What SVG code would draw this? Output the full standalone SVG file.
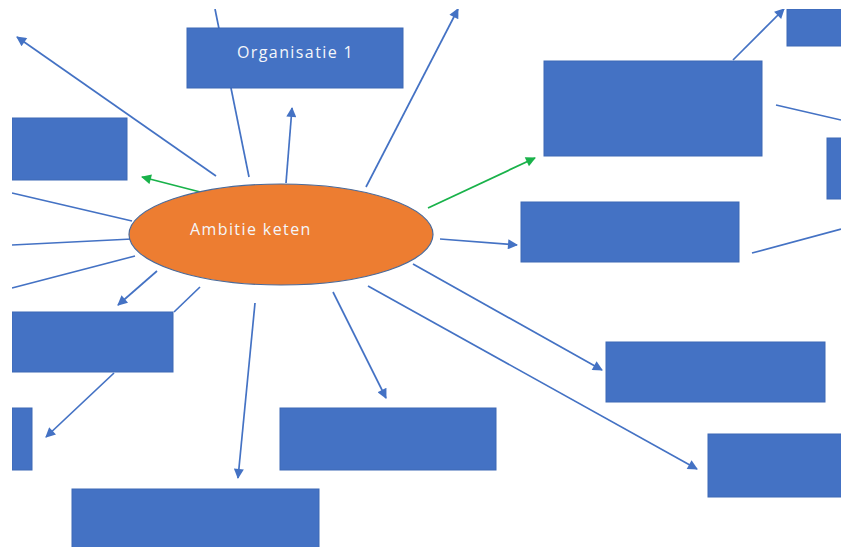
<svg xmlns="http://www.w3.org/2000/svg" width="841" height="547" viewBox="0 0 841 547">
<style>
.box{fill:#4472C4;stroke:#3D68B5;stroke-width:1}
.ln{stroke:#4472C4;stroke-width:1.7;fill:none}
.ar{stroke:#4472C4;stroke-width:1.7;fill:none;marker-end:url(#ab)}
.gr{stroke:#19B24A;stroke-width:1.8;fill:none;marker-end:url(#ag)}
.lbl{font-family:"Open Sans","Liberation Sans",sans-serif;font-size:16px;fill:#F4F6FA;letter-spacing:1.4px}
</style>
<defs>
<marker id="ab" viewBox="0 0 10 10" refX="9" refY="5" markerWidth="12" markerHeight="10" markerUnits="userSpaceOnUse" orient="auto"><path d="M0,0L10,5L0,10z" fill="#4472C4"/></marker>
<marker id="ag" viewBox="0 0 10 10" refX="9" refY="5" markerWidth="12" markerHeight="10" markerUnits="userSpaceOnUse" orient="auto"><path d="M0,0L10,5L0,10z" fill="#19B24A"/></marker>
</defs>
<rect width="841" height="547" fill="#FFFFFF"/>
<g id="connectors">
<line class="ln" x1="215" y1="9" x2="249" y2="177"/>
<line class="ar" x1="286" y1="183" x2="292" y2="108"/>
<line class="ar" x1="216" y1="176" x2="17" y2="37"/>
<line class="gr" x1="208" y1="194" x2="142" y2="177"/>
<line class="ar" x1="366" y1="187" x2="458" y2="9"/>
<line class="gr" x1="428" y1="208" x2="535" y2="158"/>
<line class="ar" x1="440" y1="239" x2="517" y2="245"/>
<line class="ar" x1="733" y1="60" x2="784" y2="9"/>
<line class="ln" x1="776" y1="105" x2="841" y2="120"/>
<line class="ln" x1="752" y1="253" x2="841" y2="229"/>
<line class="ln" x1="132" y1="221" x2="12" y2="193"/>
<line class="ln" x1="132" y1="239" x2="12" y2="245"/>
<line class="ln" x1="135" y1="256" x2="12" y2="288"/>
<line class="ar" x1="157" y1="271" x2="118" y2="305"/>
<line class="ln" x1="200" y1="287" x2="174" y2="312"/>
<line class="ar" x1="114" y1="373" x2="46" y2="437"/>
<line class="ar" x1="255" y1="303" x2="238" y2="478"/>
<line class="ar" x1="333" y1="292" x2="386" y2="398"/>
<line class="ar" x1="368" y1="286" x2="697" y2="469"/>
<line class="ar" x1="413" y1="264" x2="602" y2="370"/>
</g>
<g id="org1"><rect class="box" x="187" y="28" width="216" height="60"/><text class="lbl" x="237" y="58">Organisatie 1</text></g>
<g id="box-left-top"><rect class="box" x="12" y="118" width="115" height="62"/></g>
<g id="box-right-large"><rect class="box" x="544" y="61" width="218" height="95"/></g>
<g id="box-right-top-small"><rect class="box" x="787" y="9" width="60" height="37"/></g>
<g id="box-right-mid-small"><rect class="box" x="827" y="138" width="20" height="61"/></g>
<g id="box-right-mid"><rect class="box" x="521" y="202" width="218" height="60"/></g>
<g id="box-right-1"><rect class="box" x="606" y="342" width="219" height="60"/></g>
<g id="box-right-bottom"><rect class="box" x="708" y="434" width="140" height="63"/></g>
<g id="box-mid-bottom"><rect class="box" x="280" y="408" width="216" height="62"/></g>
<g id="box-bottom"><rect class="box" x="72" y="489" width="247" height="62"/></g>
<g id="box-left-mid"><rect class="box" x="12" y="312" width="161" height="60"/></g>
<g id="box-left-bottom"><rect class="box" x="12" y="408" width="20" height="62"/></g>
<g id="ambitie"><ellipse cx="281" cy="234.5" rx="152" ry="50.5" fill="#ED7D31" stroke="#4A6A9A" stroke-width="1.2"/><text class="lbl" x="190" y="235">Ambitie keten</text></g>
<rect x="0" y="0" width="12" height="547" fill="#FFFFFF"/>
<rect x="0" y="0" width="841" height="9" fill="#FFFFFF"/>
</svg>
